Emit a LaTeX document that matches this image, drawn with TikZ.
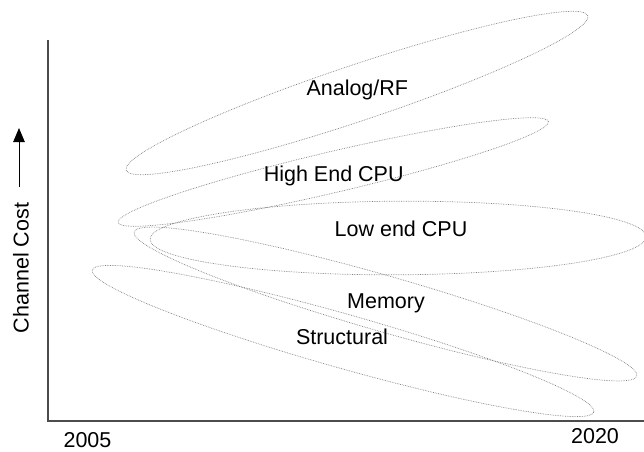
\documentclass[tikz,border=0pt]{standalone}
\usepackage{fontspec}
\setmainfont{Liberation Sans}
\usetikzlibrary{arrows.meta}

\begin{document}
\begin{tikzpicture}[
  x=1pt, y=-1pt,
  axis/.style    = {line width=1.1pt, black!70},
  region/.style  = {draw=gray, line width=0.7pt, densely dotted},
  lbl/.style     = {anchor=base, inner sep=0pt, font=\fontsize{21.5}{24}\selectfont},
  costarr/.style = {-{Triangle[length=14pt, width=11.5pt]}, line width=1pt},
]
\useasboundingbox (0,0) rectangle (644,451);

%% ── Axes ──────────────────────────────────────────────────────────
\coordinate (ytop)   at (48,40);
\coordinate (origin) at (48,421);
\coordinate (xend)   at (644,421);
\draw[axis] (ytop) -- (origin) -- (xend);

%% ── Regions ───────────────────────────────────────────────────────
\draw[region, rotate around={18.5:(357,93)}]    (357,93)  ellipse (243.4pt and 28pt);
\draw[region, rotate around={13.2:(333.3,172)}] (333.3,172) ellipse (221pt and 20.5pt);
\draw[region, rotate around={0.3:(398,238)}]    (398,238) ellipse (248pt and 36.8pt);
\draw[region, rotate around={-16:(385.5,304)}]  (385.5,304) ellipse (261.5pt and 27.9pt);
\draw[region, rotate around={-15.8:(343,341)}]  (343,341) ellipse (260.7pt and 27pt);

%% ── Labels ────────────────────────────────────────────────────────
\node[lbl] (analog)  at (357.3,95)  {Analog/RF};
\node[lbl] (highend) at (333.7,181) {High End CPU};
\node[lbl] (lowend)  at (401,236)   {Low end CPU};
\node[lbl] (memory)  at (386,308)   {Memory};
\node[lbl] (struct)  at (342,344)   {Structural};
\node[lbl] (yrstart) at (87.5,447.5) {2005};
\node[lbl] (yrend)   at (595,443.3) {2020};
\node[lbl, rotate=90] (cost) at (28.5,268) {Channel Cost};

%% ── Cost arrow ────────────────────────────────────────────────────
\coordinate (arrbot) at (19,187);
\coordinate (arrtop) at (19,128);
\draw[costarr] (arrbot) -- (arrtop);

\end{tikzpicture}
\end{document}
